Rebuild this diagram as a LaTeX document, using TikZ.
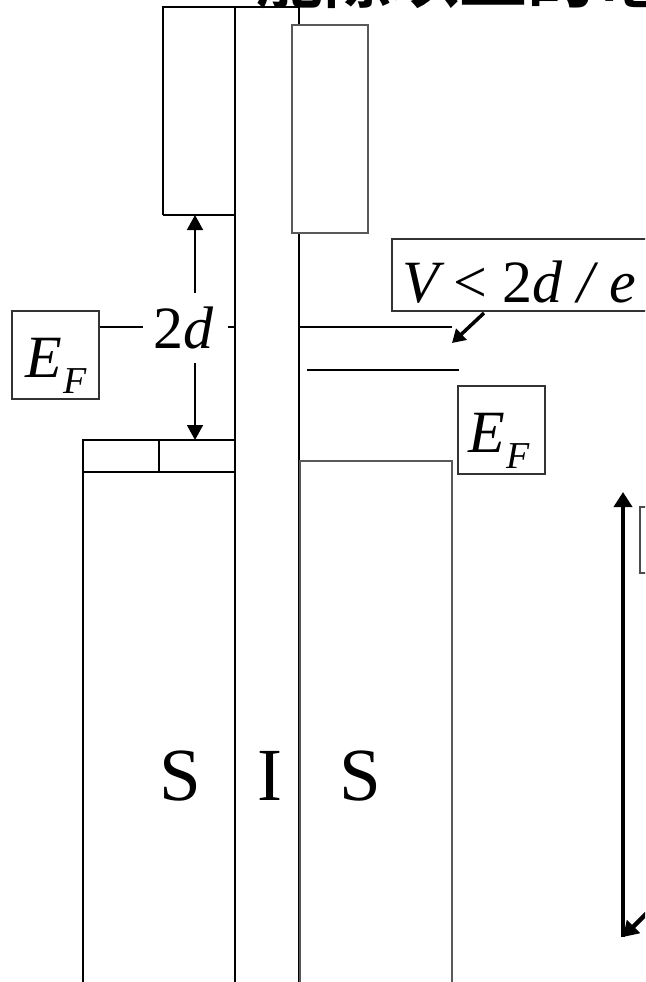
\documentclass[tikz,border=0pt]{standalone}
\usepackage{fontspec}
\setmainfont{Liberation Serif}
\newfontfamily\cjk{Noto Sans CJK TC Bold}
\usetikzlibrary{arrows.meta}

% E_F symbol: italic E with a lowered italic F
\newcommand\efsym{{\itshape E}\raisebox{-16pt}{\fontsize{38}{38}\selectfont\itshape\kern2pt F}}

\tikzset{
  wall/.style={line width=1.3pt, black},
  band/.style={line width=1.2pt, black},
  greyband/.style={line width=1.2pt, black!65},
  labelbox/.style={draw, line width=1.1pt, black!80, inner sep=0pt},
  big/.style={font=\fontsize{60}{60}\selectfont, inner sep=0pt},
  gaparrow/.style={line width=1.6pt, -{Triangle[length=15pt,width=16pt]}},
  fatarrow/.style={line width=4.5pt, -{Triangle[length=15pt,width=18pt]}},
}

\begin{document}
\begin{tikzpicture}[x=1pt, y=-1pt]
  \clip (0,0) rectangle (645,982);
  \fill[white] (0,0) rectangle (645,982);

  % heading, mostly above the top edge
  \node[anchor=base west, inner sep=0pt, font=\cjk\fontsize{68}{68}\selectfont] (title) at (255,3) {能隙以上的電};

  % left superconductor: upper band and lower band with its top strip
  \draw[band] (163,215) -- (163,7) -- (299,7);
  \draw[band] (163,215) -- (235,215);
  \draw[band] (83,990) -- (83,440) -- (235,440);
  \draw[band] (83,472) -- (235,472);
  \draw[band] (159,440) -- (159,472);

  % insulator walls
  \draw[wall] (235,7) -- (235,990);
  \draw[wall] (299,7) -- (299,990);

  % right superconductor: upper and lower bands
  \draw[greyband, fill=white] (292,25) rectangle (368,233);
  \draw[greyband] (300,990) -- (300,461) -- (452,461) -- (452,990);

  % right-side levels
  \coordinate (lvA) at (452,327);
  \coordinate (lvB) at (459,370);
  \draw[band] (299,327) -- (lvA);
  \draw[band] (307,370) -- (lvB);

  % left Fermi level label and gap marker
  \node[labelbox, minimum width=87pt, minimum height=88pt] (efL) at (55.5,355) {};
  \node[big, anchor=base west] (efLtxt) at (25,377) {\efsym};
  \node[big, anchor=base west, inner xsep=10pt] (twod) at (143,348) {2\itshape d};
  \draw[band] (efL.east |- 0,327) -- (143,327);
  \draw[band] (228,327) -- (235,327);
  \coordinate (gapTop) at (195,215);
  \coordinate (gapBot) at (195,440);
  \coordinate (gapU) at (195,293);
  \coordinate (gapD) at (195,363);
  \draw[gaparrow] (gapU) -- (gapTop);
  \draw[gaparrow] (gapD) -- (gapBot);

  % bias label with pointer
  \draw[line width=1.1pt, black!80] (660,239) -- (392,239) -- (392,311) -- (660,311);
  \node[big, anchor=base west] (vtxt) at (402,302) {\itshape V \upshape< 2\itshape d / e};
  \coordinate (vFrom) at (484,313);
  \coordinate (vTo) at (452,343);
  \draw[line width=3.5pt, -{Triangle[length=13pt,width=15pt]}] (vFrom) -- (vTo);

  % right Fermi level label
  \node[labelbox, minimum width=87pt, minimum height=88pt] (efR) at (501.5,430) {};
  \node[big, anchor=base west] (efRtxt) at (468,452) {\efsym};

  % axis-like arrows on the right
  \coordinate (axBot) at (623,937);
  \coordinate (axTop) at (623,492);
  \draw[fatarrow] (axBot) -- (axTop);
  \draw[line width=1.1pt, black!70] (660,507) -- (640,507) -- (640,573) -- (660,573);
  \coordinate (diagFrom) at (672,888);
  \draw[fatarrow] (diagFrom) -- (axBot);

  % region letters
  \node[font=\fontsize{75}{75}\selectfont, anchor=base, inner sep=0pt] (sL) at (180,800) {S};
  \node[font=\fontsize{75}{75}\selectfont, anchor=base, inner sep=0pt] (iM) at (270,800) {I};
  \node[font=\fontsize{75}{75}\selectfont, anchor=base, inner sep=0pt] (sR) at (360,800) {S};
\end{tikzpicture}
\end{document}
